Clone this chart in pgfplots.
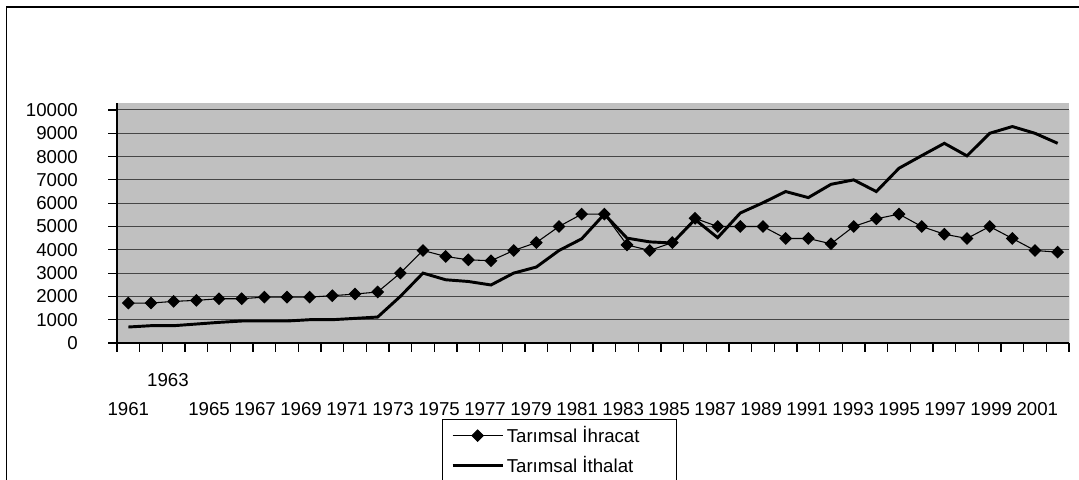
\documentclass[border=0pt]{standalone}
\usepackage{fontspec}
\setmainfont{Liberation Sans}
\usepackage{pgfplots}
\pgfplotsset{compat=1.18}
\definecolor{plotgray}{RGB}{192,192,192}
\definecolor{gridc}{RGB}{70,70,70}

\pgfplotstableread{
x exp imp
0 1714 686
1 1714 743
2 1786 743
3 1830 814
4 1900 886
5 1900 943
6 1970 943
7 1970 943
8 1970 1000
9 2030 1000
10 2100 1057
11 2190 1114
12 3000 2000
13 3970 3000
14 3714 2714
15 3570 2640
16 3530 2490
17 3970 3000
18 4310 3260
19 5000 3970
20 5530 4470
21 5530 5530
22 4210 4500
23 3970 4340
24 4310 4290
25 5350 5300
26 5000 4520
27 5000 5580
28 5000 6020
29 4486 6500
30 4486 6240
31 4257 6810
32 5000 7000
33 5330 6500
34 5530 7500
35 5000 8040
36 4670 8570
37 4486 8030
38 5000 9000
39 4486 9290
40 3970 9000
41 3900 8570
}\datatable

\begin{document}
\fontsize{14}{16.8}\selectfont
\begin{tikzpicture}
\useasboundingbox (0,0) rectangle (809.25pt,359.25pt);
\draw[line width=1.1pt] (4.9pt,-20pt) |- (830pt,354pt);
\begin{axis}[
  at={(87.75pt,102pt)}, anchor=south west,
  scale only axis, width=714pt, height=180pt,
  xmin=-0.5, xmax=41.5, ymin=0, ymax=10300,
  axis background/.style={fill=plotgray},
  axis x line*=bottom, axis y line*=left,
  axis line style={black, line width=0.9pt},
  tick align=outside,
  /pgf/number format/assume math mode=true,
  scaled y ticks=false,
  tick style={black, line width=0.8pt},
  xtick={-0.5,0.5,1.5,2.5,3.5,4.5,5.5,6.5,7.5,8.5,9.5,10.5,11.5,12.5,13.5,14.5,15.5,16.5,17.5,18.5,19.5,20.5,21.5,22.5,23.5,24.5,25.5,26.5,27.5,28.5,29.5,30.5,31.5,32.5,33.5,34.5,35.5,36.5,37.5,38.5,39.5,40.5,41.5},
  xticklabels={{}},
  extra x ticks={0,1.75,3.56,5.59,7.62,9.65,11.68,13.71,15.74,17.77,19.80,21.83,23.86,25.89,27.92,29.95,31.98,34.01,36.04,38.07,40.10},
  extra x tick labels={1961,\raisebox{21.75pt}{1963},1965,1967,1969,1971,1973,1975,1977,1979,1981,1983,1985,1987,1989,1991,1993,1995,1997,1999,2001},
  extra x tick style={major tick length=0pt, grid=none, xticklabel style={anchor=base, yshift=-54pt}},
  ytick={0,1000,...,10000},
  major tick length=6.5pt,
  ymajorgrids,
  major grid style={gridc, line width=0.75pt},
  yticklabel style={anchor=east, xshift=-18pt, /pgf/number format/1000 sep={}},
  tick label style={font=\fontsize{14}{16.8}\selectfont},
  legend style={at={(0.3414,-0.3167)}, anchor=north west, draw=black, line width=0.75pt, fill=white,
    font=\fontsize{14}{16.8}\selectfont, row sep=4pt, inner xsep=6.5pt, inner ysep=3pt},
  legend cell align=left,
  legend image code/.code={\draw[mark repeat=2,mark phase=2,#1] plot coordinates {(0pt,0pt) (18.75pt,0pt) (37.5pt,0pt)};},
]
\addplot[black, line width=0.8pt, mark=square*, mark size=3pt, mark options={rotate=45, solid, fill=black}] table[x=x, y=exp] {\datatable};
\addlegendentry{Tarımsal İhracat\rule{19.5pt}{0pt}}
\addplot[black, line width=2.2pt, no marks] table[x=x, y=imp] {\datatable};
\addlegendentry{Tarımsal İthalat}
\draw[gridc, line width=0.75pt] (axis cs:41.5,0) -- (axis cs:41.5,10000);
\end{axis}
\end{tikzpicture}
\end{document}
